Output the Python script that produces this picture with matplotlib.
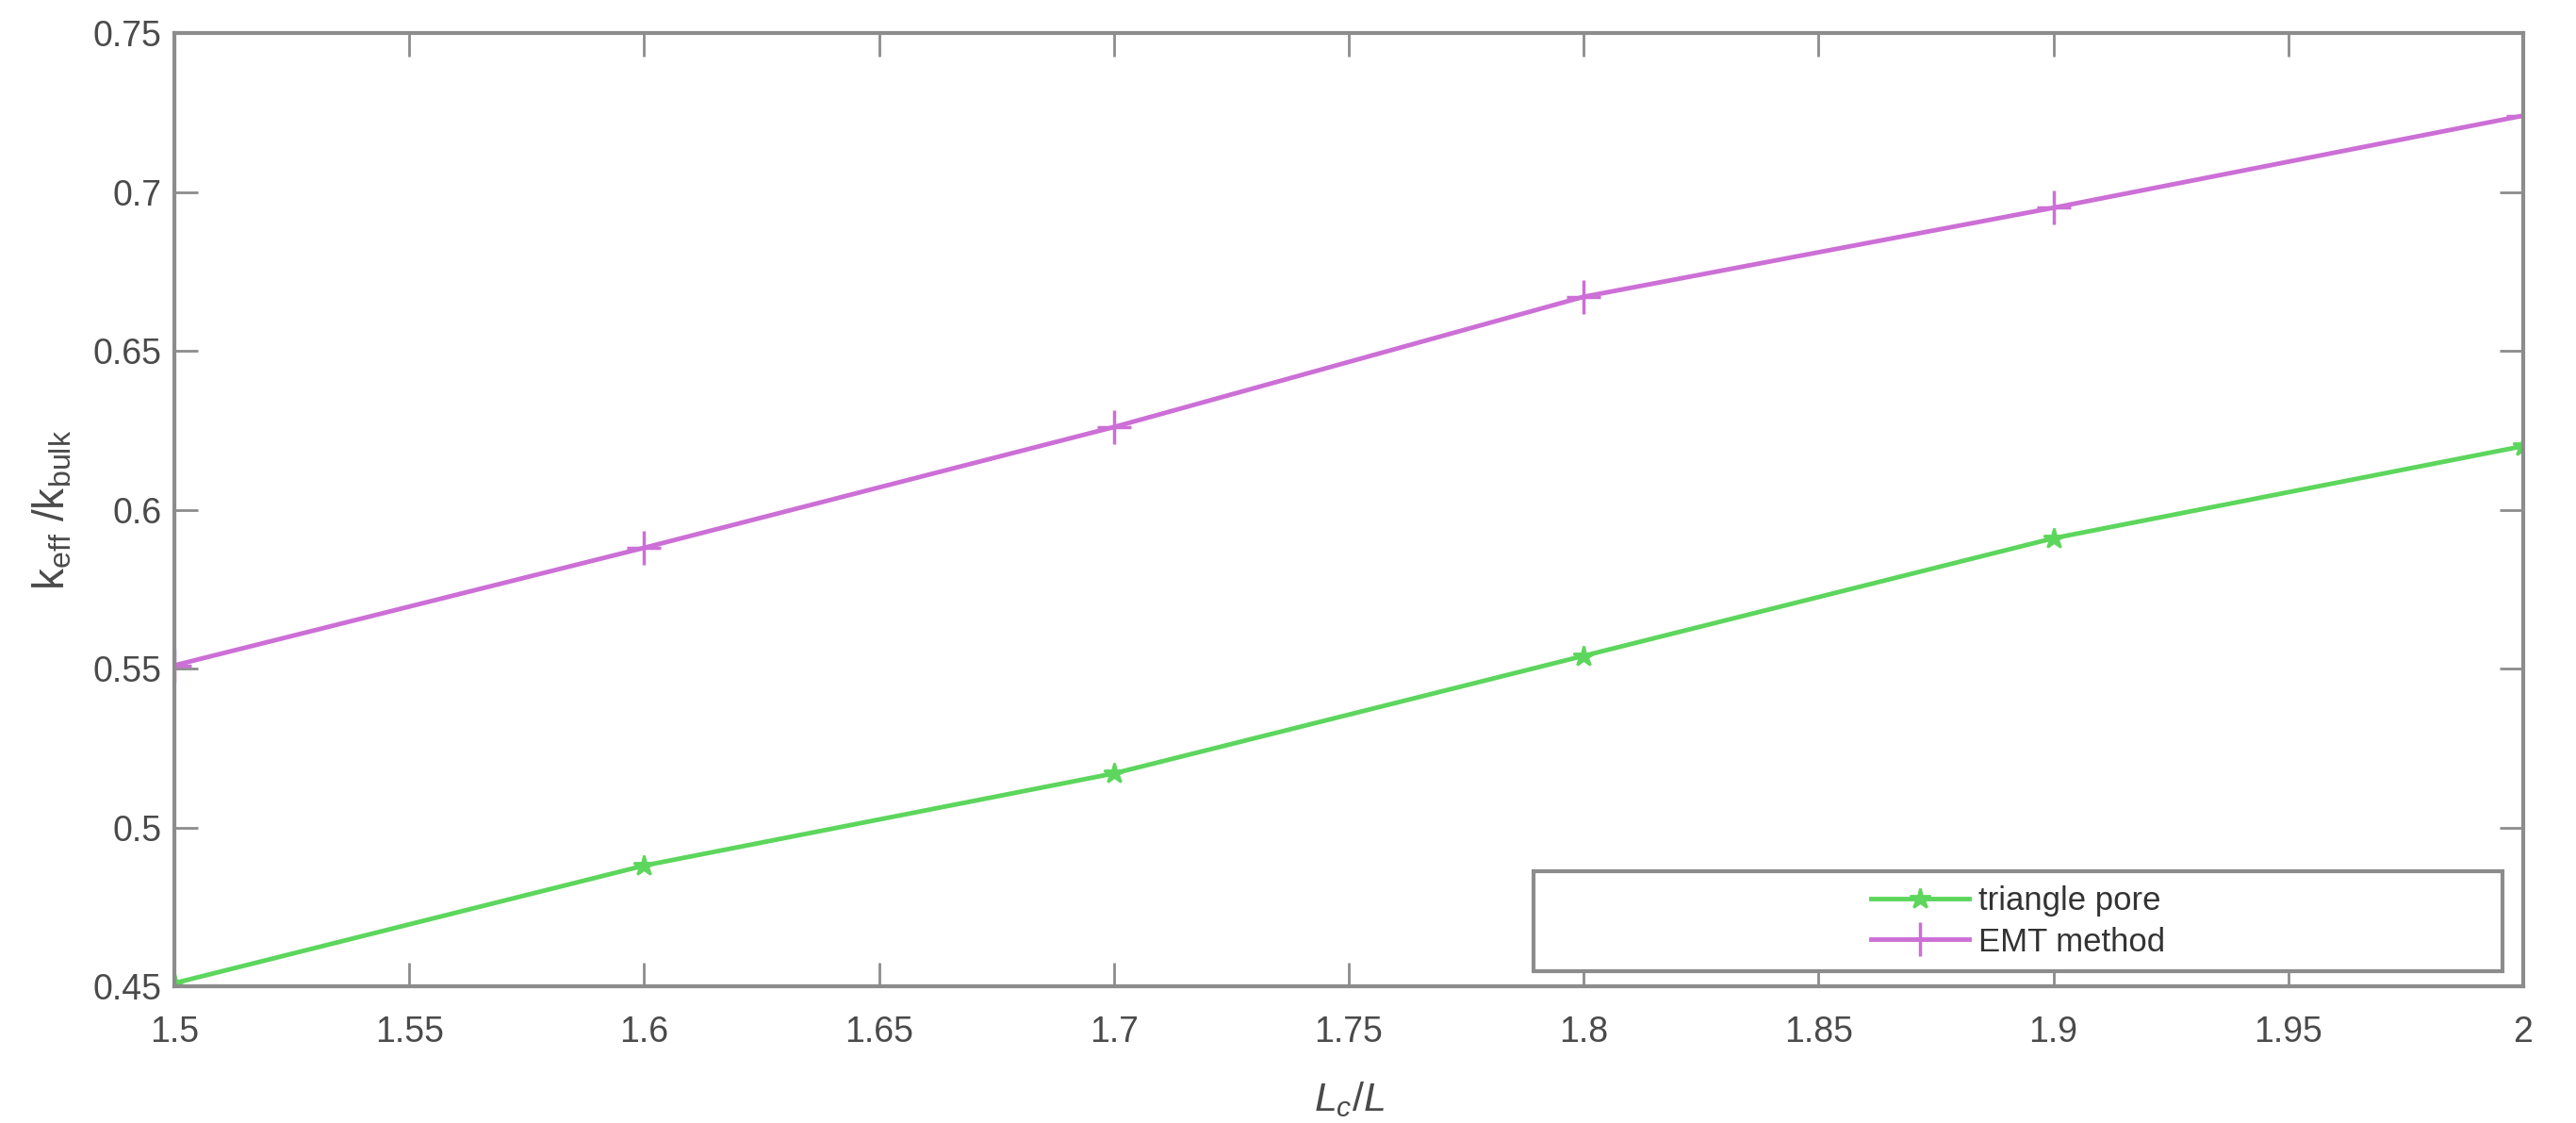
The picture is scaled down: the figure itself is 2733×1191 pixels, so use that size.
import matplotlib
matplotlib.use('Agg')
import matplotlib.pyplot as plt
from matplotlib.patches import Rectangle
import numpy as np

# values
lc_ratio = [1.5, 1.6, 1.7, 1.8, 1.9, 2.0]
triangle_pore = [0.451, 0.488, 0.517, 0.554, 0.591, 0.620]
emt_method = [0.551, 0.588, 0.626, 0.667, 0.695, 0.724]

x_ticks = [1.5, 1.55, 1.6, 1.65, 1.7, 1.75, 1.8, 1.85, 1.9, 1.95, 2.0]
x_ticklabels = ['1.5', '1.55', '1.6', '1.65', '1.7', '1.75', '1.8', '1.85', '1.9', '1.95', '2']
y_ticks = [0.45, 0.5, 0.55, 0.6, 0.65, 0.7, 0.75]
y_ticklabels = ['0.45', '0.5', '0.55', '0.6', '0.65', '0.7', '0.75']

plt.rcParams['font.family'] = ['Liberation Sans', 'DejaVu Sans']
plt.rcParams['mathtext.fontset'] = 'custom'
plt.rcParams['mathtext.rm'] = 'Liberation Sans'
plt.rcParams['mathtext.it'] = 'Liberation Sans:italic'

axis_grey = '#8c8c8c'
text_grey = '#4a4a4a'
green = '#5cd65c'
violet = '#cc6fd6'

fig = plt.figure(figsize=(27.33, 11.91), dpi=100)
ax = fig.add_axes([0.0677, 0.1217, 0.9118, 0.8489])

ax.plot(lc_ratio, triangle_pore, '-*', color=green, lw=3.5, ms=16, mew=2, label='triangle pore')
ax.plot(lc_ratio, emt_method, '-+', color=violet, lw=3.5, ms=26, mew=2.5, label='EMT method')

ax.set_xlim(1.5, 2.0)
ax.set_ylim(0.45, 0.75)
ax.set_xticks(x_ticks)
ax.set_xticklabels(x_ticklabels)
ax.set_yticks(y_ticks)
ax.set_yticklabels(y_ticklabels)

ax.tick_params(direction='in', length=18, width=2, color=axis_grey,
               labelsize=27, labelcolor=text_grey, top=True, right=True)
ax.tick_params(axis='x', pad=22)
ax.tick_params(axis='y', pad=10)
for s in ax.spines.values():
    s.set_color(axis_grey)
    s.set_linewidth(3)

ax.set_xlabel(r'$L_c/L$', fontsize=31, color=text_grey)
ax.xaxis.set_label_coords(0.5, -0.098)
ax.set_ylabel(r'$\mathregular{k_{eff}\ /k_{bulk}}$', fontsize=33, color=text_grey, labelpad=14)

# MATLAB style legend: wide box with entries centred in it
ax.add_patch(Rectangle((0.5787, 0.0158), 0.4125, 0.1049, transform=ax.transAxes,
                       fill=True, facecolor='white', edgecolor=axis_grey, lw=3, zorder=4))
leg = ax.legend(loc='center', bbox_to_anchor=(0.785, 0.068), frameon=False,
                fontsize=25, handlelength=3.0, labelspacing=0.3, handletextpad=0.3,
                borderpad=0.0)
leg.set_zorder(5)
for t in leg.get_texts():
    t.set_color('#333333')

fig.savefig('out.png', dpi=100, facecolor='white')
